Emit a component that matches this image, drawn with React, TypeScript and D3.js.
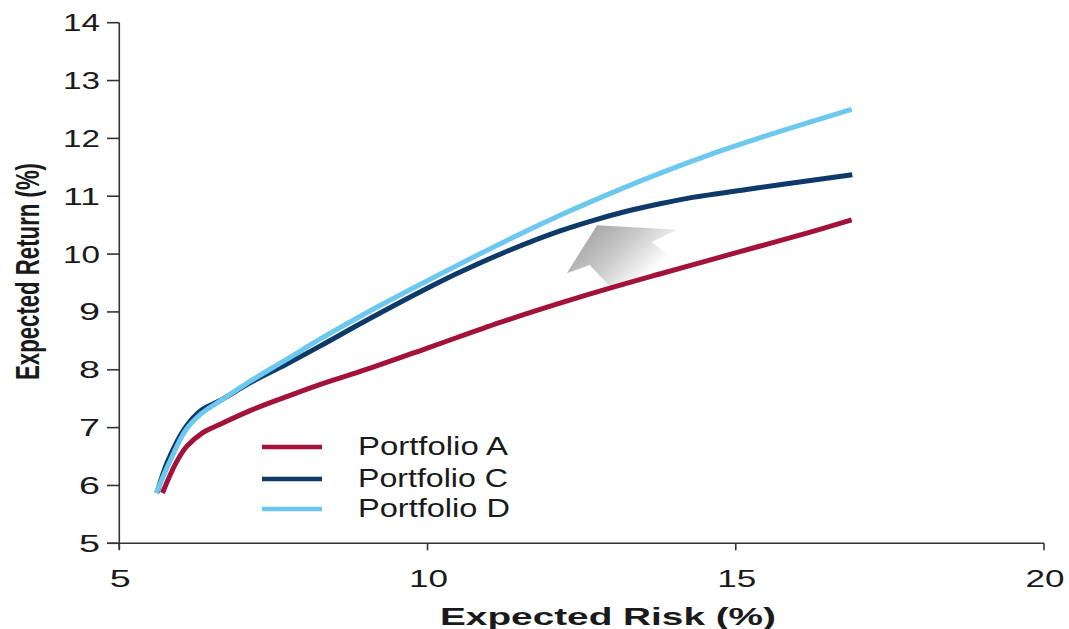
import React from "react";
import * as d3 from "d3";

type Pt = [number, number];

const portfolioA: Pt[] = [
  [5.7, 5.87], [5.92, 6.39], [6.09, 6.67], [6.35, 6.91], [6.62, 7.05], [7.16, 7.31],
  [7.7, 7.53], [8.24, 7.74], [9.02, 8.01], [10.09, 8.41], [11.18, 8.82], [12.48, 9.26],
  [13.78, 9.66], [14.59, 9.9], [15.4, 10.14], [16.21, 10.38], [16.88, 10.59],
];
const portfolioC: Pt[] = [
  [5.61, 5.87], [5.79, 6.43], [6.07, 7.0], [6.34, 7.31], [6.62, 7.46], [7.15, 7.79],
  [7.7, 8.09], [8.24, 8.4], [9.02, 8.86], [10.09, 9.46], [10.53, 9.69], [11.34, 10.07],
  [12.15, 10.4], [12.68, 10.58], [13.23, 10.74], [13.77, 10.87], [14.3, 10.98],
  [15.07, 11.1], [15.8, 11.21], [16.89, 11.37],
];
const portfolioD: Pt[] = [
  [5.6, 5.87], [5.81, 6.39], [6.08, 6.96], [6.34, 7.25], [6.62, 7.45], [7.15, 7.82],
  [7.7, 8.17], [8.24, 8.52], [9.02, 8.99], [10.09, 9.59], [11.18, 10.18], [12.15, 10.67],
  [12.68, 10.92], [13.56, 11.31], [14.58, 11.72], [15.39, 12.01], [16.2, 12.28], [16.88, 12.5],
];

const seriesNames = ["Portfolio A", "Portfolio C", "Portfolio D"];
const seriesColors = ["#A3123A", "#0D3A68", "#6CC8EE"];
const seriesData = [portfolioA, portfolioC, portfolioD];

const xTicks = [5, 10, 15, 20];
const yTicks = [5, 6, 7, 8, 9, 10, 11, 12, 13, 14];

// annotation arrow (data units)
const arrowPts: Pt[] = [
  [12.75, 10.5], [14.05, 10.42], [13.64, 10.21], [14.2, 9.72],
  [12.95, 9.45], [12.63, 9.81], [12.26, 9.67],
];

export default function App() {
  const W = 1069, H = 629;
  const x = d3.scaleLinear().domain([5, 20]).range([119.3, 1044]);
  const y = d3.scaleLinear().domain([5, 14]).range([543.3, 22.7]);
  const line = d3
    .line<Pt>()
    .x((d) => x(d[0]))
    .y((d) => y(d[1]))
    .curve(d3.curveCatmullRom.alpha(0.5));
  const font = "'Liberation Sans', Arial, sans-serif";
  const textColor = "#1a1a1a";

  const arrowPath =
    "M" + arrowPts.map((p) => `${x(p[0])},${y(p[1])}`).join("L") + "Z";
  const tip = arrowPts[0];
  const tail: Pt = [(arrowPts[3][0] + arrowPts[4][0]) / 2, (arrowPts[3][1] + arrowPts[4][1]) / 2];

  const legendY = [447, 479, 509];

  return (
    <svg width={W} height={H} style={{ position: "absolute", left: 0, top: 0, background: "#fff" }}>
      <defs>
        <linearGradient
          id="arrowGrad"
          gradientUnits="userSpaceOnUse"
          x1={x(tip[0])}
          y1={y(tip[1])}
          x2={x(tail[0])}
          y2={y(tail[1])}
        >
          <stop offset="0" stopColor="#a9a9a9" />
          <stop offset="0.45" stopColor="#c9c9c9" />
          <stop offset="1" stopColor="#ffffff" />
        </linearGradient>
      </defs>
      <rect width={W} height={H} fill="#fff" />

      {/* axes */}
      <g stroke="#333" strokeWidth={1.6} fill="none">
        <line x1={x(5)} x2={x(5)} y1={y(14)} y2={y(5) + 6} />
        <line x1={107} x2={x(20)} y1={y(5)} y2={y(5)} />
        {yTicks.map((t) => (
          <line key={"yt" + t} x1={107} x2={x(5)} y1={y(t)} y2={y(t)} />
        ))}
        {xTicks.map((t) => (
          <line key={"xt" + t} x1={x(t)} x2={x(t)} y1={y(5)} y2={y(5) + 7} />
        ))}
      </g>

      {yTicks.map((t) => (
        <text
          key={"yl" + t}
          x={100}
          y={y(t) + 8.5}
          textAnchor="end"
          fontFamily={font}
          fontSize={24}
          fill={textColor}
          textLength={t >= 10 ? 37 : 21}
          lengthAdjust="spacingAndGlyphs"
        >
          {t}
        </text>
      ))}
      {xTicks.map((t) => (
        <text
          key={"xl" + t}
          x={x(t) + 1}
          y={587}
          textAnchor="middle"
          fontFamily={font}
          fontSize={24}
          fill={textColor}
          textLength={t >= 10 ? 39 : 21}
          lengthAdjust="spacingAndGlyphs"
        >
          {t}
        </text>
      ))}

      <text
        x={440}
        y={625}
        fontFamily={font}
        fontWeight="bold"
        fontSize={24}
        fill={textColor}
        textLength={336}
        lengthAdjust="spacingAndGlyphs"
      >
        Expected Risk (%)
      </text>
      <text
        transform="translate(39,271.5) scale(1.35,1) rotate(-90)"
        textAnchor="middle"
        fontFamily={font}
        fontWeight="bold"
        fontSize={24}
        fill={textColor}
        textLength={217}
        lengthAdjust="spacingAndGlyphs"
      >
        Expected Return (%)
      </text>

      {/* arrow annotation */}
      <path d={arrowPath} fill="url(#arrowGrad)" />

      {/* series */}
      {seriesData.map((d, i) => (
        <path
          key={seriesNames[i]}
          d={line(d) || ""}
          fill="none"
          stroke={seriesColors[i]}
          strokeWidth={5}
          strokeLinejoin="round"
        />
      ))}

      {/* legend */}
      {seriesNames.map((n, i) => (
        <g key={"lg" + n}>
          <line x1={262} x2={322} y1={legendY[i]} y2={legendY[i]} stroke={seriesColors[i]} strokeWidth={4.5} />
          <text
            x={358}
            y={legendY[i] + 7.5}
            fontFamily={font}
            fontSize={25}
            fill={textColor}
            textLength={i === 2 ? 152 : 150}
            lengthAdjust="spacingAndGlyphs"
          >
            {n}
          </text>
        </g>
      ))}
    </svg>
  );
}
